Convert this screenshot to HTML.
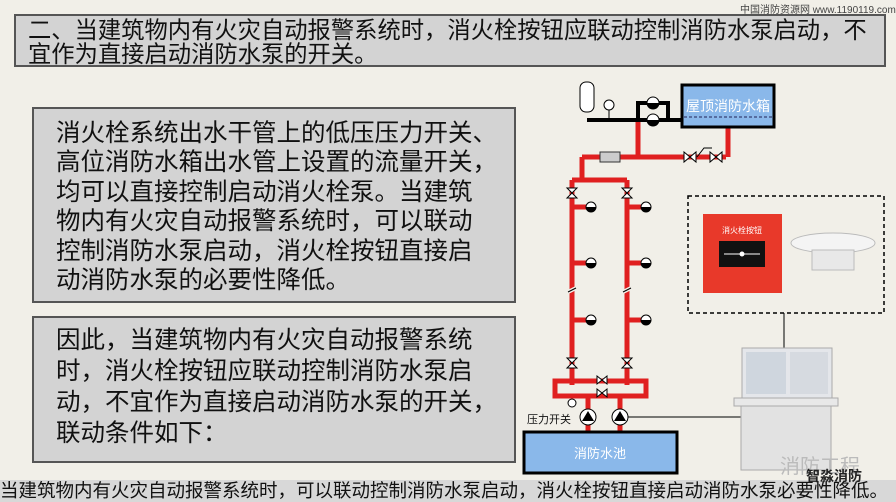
<!DOCTYPE html>
<html><head><meta charset="utf-8"><style>
body{margin:0;width:896px;height:502px;overflow:hidden;background:#f1efe8;font-family:"Liberation Sans","Noto Sans CJK SC",sans-serif;position:relative}
.box{position:absolute;background:#d3d3d3;border:2px solid #555;color:#111;box-sizing:border-box;white-space:nowrap}
</style></head><body>
<div style="position:absolute;left:740px;top:1px;font-size:10px;color:#444">中国消防资源网 www.1190119.com</div>
<div class="box" style="left:14px;top:14px;width:872px;height:53px;font-size:23.3px;line-height:24px;padding:2px 0 0 12px;">二、当建筑物内有火灾自动报警系统时，消火栓按钮应联动控制消防水泵启动，不<br>宜作为直接启动消防水泵的开关。</div>
<div class="box" style="left:32px;top:107px;width:484px;height:196px;font-size:24.5px;line-height:29.4px;padding:10px 0 0 22px;">消火栓系统出水干管上的低压压力开关、<br>高位消防水箱出水管上设置的流量开关，<br>均可以直接控制启动消火栓泵。当建筑<br>物内有火灾自动报警系统时，可以联动<br>控制消防水泵启动，消火栓按钮直接启<br>动消防水泵的必要性降低。</div>
<div class="box" style="left:32px;top:316px;width:484px;height:147px;font-size:24.5px;line-height:31px;padding:7px 0 0 22px;">因此，当建筑物内有火灾自动报警系统<br>时，消火栓按钮应联动控制消防水泵启<br>动，不宜作为直接启动消防水泵的开关，<br>联动条件如下：</div>
<div style="position:absolute;left:0;top:480px;width:896px;height:22px;background:#d8d8d8;font-size:18.5px;line-height:22px;white-space:nowrap;color:#111">当建筑物内有火灾自动报警系统时，可以联动控制消防水泵启动，消火栓按钮直接启动消防水泵必要性降低。</div>
<svg style="position:absolute;left:0;top:0" width="896" height="502">
<g fill="none" stroke="#e02020" stroke-width="5">
<path d="M638 120V157M582 157H726M728 127V157M582 157V180M572 180H627M572 180V385M627 180V385"/>
<path d="M572 207H588M572 263H588M572 320H588M627 207H643M627 263H643M627 320H643"/>
<rect x="555" y="381" width="91" height="15"/>
<path d="M588 396V432M620 396V432"/>
</g>
<rect x="600" y="152" width="20" height="10" fill="#ccc" stroke="#333"/>
<g stroke="#f1efe8" stroke-width="4"><path d="M568 292L576 288M623 292L631 288"/></g>
<g stroke="#000" stroke-width="1"><path d="M568 292L576 288M623 292L631 288"/></g>
<path d="M587 120H682M638 120V103H668V120" stroke="#000" stroke-width="4" fill="none"/>
<rect x="580" y="82" width="14" height="30" rx="6" fill="#fff" stroke="#000"/>
<circle cx="609" cy="105" r="5" fill="#fff" stroke="#000"/><path d="M609 110V120" stroke="#000"/>
<circle cx="653" cy="103" r="6" fill="#fff" stroke="#000"/><circle cx="653" cy="120" r="6" fill="#fff" stroke="#000"/>
<path d="M647 103A6 6 0 0 0 659 103ZM647 120A6 6 0 0 0 659 120Z" fill="#000"/>
<rect x="682" y="85" width="92" height="42" fill="#8ab8ea" stroke="#000" stroke-width="3"/>
<path d="M684 117H772" stroke="#225" stroke-dasharray="3 2"/>
<text x="728" y="111" font-size="14" fill="#fff" text-anchor="middle" font-family="Liberation Sans,Noto Sans CJK SC,sans-serif">屋顶消防水箱</text>
<g fill="#fff" stroke="#000">
<path d="M684 152L696 162V152L684 162Z"/><path d="M710 152L722 162V152L710 162Z"/>
<path d="M567 188L577 198H567L577 188Z"/><path d="M622 188L632 198H622L632 188Z"/>
<path d="M567 358L577 368H567L577 358Z"/><path d="M622 358L632 368H622L632 358Z"/>
<path d="M597 376L607 384V376L597 384Z"/><path d="M597 389L607 397V389L597 397Z"/>
</g>
<path d="M697 157L704 148H712" stroke="#000" fill="none"/>
<g stroke="#000" fill="#fff">
<circle cx="591" cy="207" r="5"/><circle cx="591" cy="263" r="5"/><circle cx="591" cy="320" r="5"/>
<circle cx="646" cy="207" r="5"/><circle cx="646" cy="263" r="5"/><circle cx="646" cy="320" r="5"/>
<circle cx="572" cy="403" r="4"/>
<circle cx="588" cy="417" r="8"/><circle cx="620" cy="417" r="8"/>
</g>
<path d="M586 207A5 5 0 0 0 596 207ZM586 263A5 5 0 0 0 596 263ZM586 320A5 5 0 0 0 596 320ZM641 207A5 5 0 0 0 651 207ZM641 263A5 5 0 0 0 651 263ZM641 320A5 5 0 0 0 651 320Z" fill="#000"/>
<path d="M582 421L588 411L594 421ZM614 421L620 411L626 421Z" fill="#000"/>
<path d="M628 417H745" stroke="#000"/>
<text x="527" y="423" font-size="11" fill="#111" font-family="Liberation Sans,Noto Sans CJK SC,sans-serif">压力开关</text>
<rect x="524" y="432" width="153" height="41" fill="#8ab8ea" stroke="#000" stroke-width="3"/>
<text x="600" y="458" font-size="13" fill="#fff" text-anchor="middle" font-family="Liberation Sans,Noto Sans CJK SC,sans-serif">消防水池</text>
<rect x="688" y="196" width="196" height="117" fill="none" stroke="#000" stroke-dasharray="4 3" stroke-width="1.5"/>
<rect x="703" y="214" width="79" height="79" fill="#e8392a"/>
<text x="742" y="233" font-size="8" fill="#fff" text-anchor="middle" font-family="Liberation Sans,Noto Sans CJK SC,sans-serif">消火栓按钮</text>
<rect x="719" y="241" width="46" height="26" fill="#111"/>
<path d="M724 254H760" stroke="#fff"/><circle cx="742" cy="254" r="2.5" fill="#fff"/>
<ellipse cx="833" cy="243" rx="42" ry="10" fill="#f4f4f4" stroke="#bbb"/>
<rect x="812" y="250" width="42" height="20" fill="#e8e8e8" stroke="#bbb"/>
<path d="M784 313V348" stroke="#000"/>
<rect x="742" y="348" width="90" height="50" fill="#e4e6ea" stroke="#aaa"/>
<rect x="746" y="352" width="40" height="42" fill="#cfd6de"/><rect x="790" y="352" width="38" height="42" fill="#d6dae0"/>
<rect x="734" y="398" width="104" height="8" fill="#e8e8e8" stroke="#aaa"/>
<rect x="741" y="406" width="90" height="64" fill="#e2e2e2" stroke="#aaa"/>
</svg>
<div style="position:absolute;left:780px;top:450px;font-size:20px;color:#bbb">消防工程</div>
<div style="position:absolute;left:806px;top:466px;font-size:14px;font-weight:bold;color:#222">智淼消防</div>
</body></html>
